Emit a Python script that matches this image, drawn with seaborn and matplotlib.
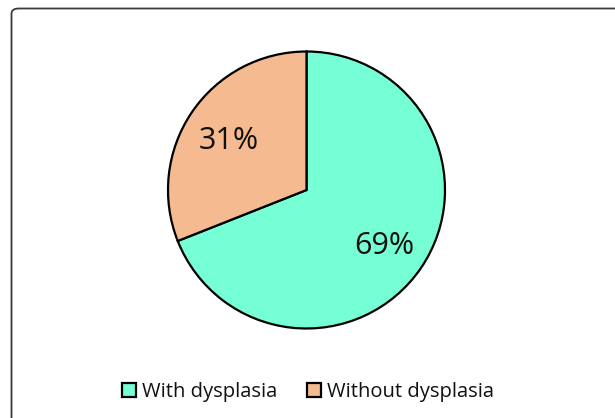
import matplotlib
matplotlib.use("Agg")
import matplotlib.pyplot as plt
from matplotlib.patches import FancyBboxPatch, Patch
import seaborn as sns

categories = ["With dysplasia", "Without dysplasia"]
values = [69, 31]
colors = ["#76FFD5", "#F5BA8F"]

sns.set_theme(style="white")
plt.rcParams['font.family'] = ['Open Sans', 'DejaVu Sans']

W, H = 615, 418
fig = plt.figure(figsize=(W / 100, H / 100), dpi=100)
fig.patch.set_facecolor("white")

# rounded border
border = FancyBboxPatch((11.5 / W, -0.05), (W + 20) / W, (H - 8.5) / H + 0.05,
                        boxstyle="round,pad=0,rounding_size=0.012",
                        transform=fig.transFigure, fill=False,
                        edgecolor="#3a3a3a", linewidth=1.3, zorder=0)
fig.patches.append(border)

cx, cy, r = 306.5, 190.0, 138.5
ax = fig.add_axes([(cx - r) / W, (H - cy - r) / H, 2 * r / W, 2 * r / H])
palette = sns.color_palette(colors)
wedges, texts, autotexts = ax.pie(values, colors=palette, startangle=90, counterclock=False,
                                  autopct="%d%%", pctdistance=0.68, radius=1,
                                  wedgeprops=dict(edgecolor="black", linewidth=1.6),
                                  textprops=dict(fontsize=22, color="#111111"))
for t in autotexts:
    t.set_verticalalignment("center_baseline")
ax.set_xlim(-1, 1)
ax.set_ylim(-1, 1)
ax.set_aspect("equal")
ax.axis("off")

handles = [Patch(facecolor=c, edgecolor="black", linewidth=1.6) for c in colors]
fig.legend(handles, categories, loc="center", bbox_to_anchor=(0.501, 0.062),
           ncol=2, frameon=False, fontsize=14.5, handlelength=0.7, handleheight=0.7,
           handletextpad=0.3, columnspacing=1.5, borderpad=0, labelcolor="#111111")

fig.savefig("out.png", dpi=100, facecolor="white")
